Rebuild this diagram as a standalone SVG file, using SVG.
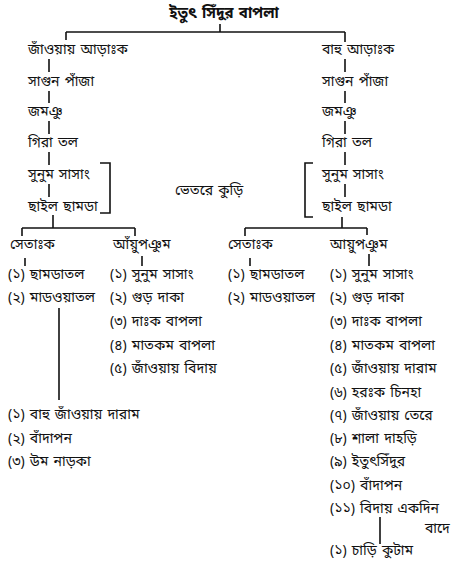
<svg xmlns="http://www.w3.org/2000/svg" width="453" height="572" viewBox="0 0 453 572">
<style>
text{font-family:"Noto Sans Bengali","Noto Serif Bengali","Lohit Bengali","FreeSans","Noto Sans",sans-serif;font-size:14px;fill:#111;dominant-baseline:central;word-spacing:1.5px}
.t{font-size:15px;font-weight:bold}
.c line,.c polyline{stroke:#111;stroke-width:1.6;fill:none}
</style>
<rect width="453" height="572" fill="#fff"/>
<g id="connectors" class="c">
<line x1="220" y1="24" x2="220" y2="32"/>
<line x1="66" y1="32" x2="345" y2="32"/>
<line x1="66" y1="32" x2="66" y2="40"/>
<line x1="345" y1="32" x2="345" y2="42"/>
<line x1="49" y1="59" x2="49" y2="72"/>
<line x1="49" y1="91" x2="49" y2="103"/>
<line x1="49" y1="121" x2="49" y2="134"/>
<line x1="49" y1="152" x2="49" y2="165"/>
<line x1="49" y1="184" x2="49" y2="197"/>
<line x1="345" y1="59" x2="345" y2="72"/>
<line x1="345" y1="91" x2="345" y2="103"/>
<line x1="345" y1="121" x2="345" y2="134"/>
<line x1="345" y1="152" x2="345" y2="165"/>
<line x1="345" y1="184" x2="345" y2="197"/>
<polyline points="100,163 110,163 110,213 100,213"/>
<polyline points="313,163 305,163 305,217 313,217"/>
<line x1="53" y1="215" x2="53" y2="228"/>
<line x1="22" y1="228" x2="135" y2="228"/>
<line x1="22" y1="228" x2="22" y2="236"/>
<line x1="135" y1="228" x2="135" y2="236"/>
<line x1="25" y1="258" x2="25" y2="266"/>
<line x1="142" y1="256" x2="142" y2="266"/>
<line x1="59" y1="308" x2="59" y2="400"/>
<line x1="342" y1="217" x2="342" y2="228"/>
<line x1="245" y1="228" x2="367" y2="228"/>
<line x1="245" y1="228" x2="245" y2="236"/>
<line x1="367" y1="228" x2="367" y2="235"/>
<line x1="250" y1="258" x2="250" y2="266"/>
<line x1="369" y1="254" x2="369" y2="266"/>
<line x1="380" y1="517" x2="380" y2="544"/>
</g>
<g id="title"><text class="t" x="224" y="14" text-anchor="middle">ইতুৎ সিঁদুর বাপলা</text></g>
<g id="left-chain">
<text x="28" y="50">জাঁওয়ায় আড়াঃক</text>
<text x="28" y="82">সাগুন পাঁজা</text>
<text x="28" y="112">জমঞু</text>
<text x="28" y="143">গিরা তল</text>
<text x="28" y="175">সুনুম সাসাং</text>
<text x="28" y="207">ছাইল ছামডা</text>
</g>
<g id="right-chain">
<text x="322" y="50">বাহু আড়াঃক</text>
<text x="322" y="82">সাগুন পাঁজা</text>
<text x="322" y="112">জমঞু</text>
<text x="322" y="143">গিরা তল</text>
<text x="322" y="175">সুনুম সাসাং</text>
<text x="322" y="207">ছাইল ছামডা</text>
</g>
<g id="middle"><text x="175" y="191">ভেতরে কুড়ি</text></g>
<g id="left-setak">
<text x="10" y="245">সেতাঃক</text>
<text x="8" y="275">(১) ছামডাতল</text>
<text x="8" y="298">(২) মাডওয়াতল</text>
</g>
<g id="left-ayup">
<text x="113" y="245">আঁয়ুপঞুম</text>
<text x="110" y="275">(১) সুনুম সাসাং</text>
<text x="110" y="298">(২) গুড় দাকা</text>
<text x="110" y="322">(৩) দাঃক বাপলা</text>
<text x="110" y="346">(৪) মাতকম বাপলা</text>
<text x="110" y="369">(৫) জাঁওয়ায় বিদায়</text>
</g>
<g id="left-bottom">
<text x="8" y="415">(১) বাহু জাঁওয়ায় দারাম</text>
<text x="8" y="439">(২) বাঁদাপন</text>
<text x="8" y="462">(৩) উম নাড়কা</text>
</g>
<g id="right-setak">
<text x="228" y="245">সেতাঃক</text>
<text x="228" y="275">(১) ছামডাতল</text>
<text x="228" y="298">(২) মাডওয়াতল</text>
</g>
<g id="right-ayup">
<text x="330" y="245">আয়ুপঞুম</text>
<text x="330" y="275">(১) সুনুম সাসাং</text>
<text x="330" y="298">(২) গুড় দাকা</text>
<text x="330" y="322">(৩) দাঃক বাপলা</text>
<text x="330" y="346">(৪) মাতকম বাপলা</text>
<text x="330" y="369">(৫) জাঁওয়ায় দারাম</text>
<text x="330" y="393">(৬) হরঃক চিনহা</text>
<text x="330" y="416">(৭) জাঁওয়ায় তেরে</text>
<text x="330" y="439">(৮) শালা দাহড়ি</text>
<text x="330" y="462">(৯) ইতুৎসিঁদুর</text>
<text x="330" y="486">(১০) বাঁদাপন</text>
<text x="330" y="509">(১১) বিদায় একদিন</text>
<text x="425" y="529">বাদে</text>
<text x="330" y="551">(১) চাড়ি কুটাম</text>
</g>
</svg>
